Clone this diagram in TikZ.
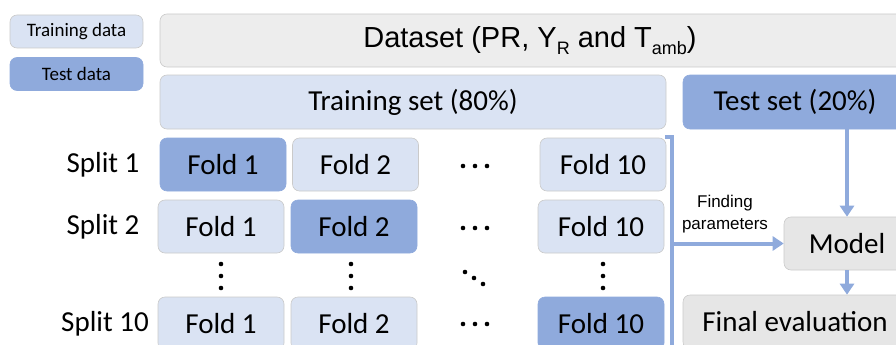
\documentclass[tikz,border=0pt]{standalone}
\usepackage{fontspec}
\setmainfont{Carlito}
\newfontfamily\arialf{Liberation Sans}
\usetikzlibrary{arrows.meta}
\definecolor{lblue}{HTML}{DAE3F3}
\definecolor{mblue}{HTML}{8FAADC}
\definecolor{dgray}{HTML}{EDEDED}
\definecolor{mgray}{HTML}{E6E6E6}
\definecolor{bord}{HTML}{CACACA}
\newcommand{\subtxt}[1]{\raisebox{-0.22em}{\fontsize{18}{18}\selectfont #1}}
\begin{document}
\begin{tikzpicture}[x=1pt,y=-1pt,
  box/.style={rounded corners=7pt, draw=bord, line width=0.6pt, inner sep=0pt, font=\fontsize{29}{31}\selectfont},
  trainfill/.style={fill=lblue, draw=bord},
  testfill/.style={fill=mblue, draw=mblue},
  trainbox/.style={box, trainfill},
  testbox/.style={box, testfill},
  graybox/.style={box, fill=mgray},
  fold/.style={minimum width=126pt, minimum height=53pt},
  legbox/.style={box, minimum width=133pt, minimum height=33pt, font=\fontsize{19}{21}\selectfont},
  splitlbl/.style={font=\fontsize{29}{31}\selectfont, inner sep=0pt},
  arr/.style={draw=mblue, line width=4pt, -{Triangle[width=14pt,length=11pt]}}
]
\useasboundingbox (0,0) rectangle (896,345);
\clip (0,0) rectangle (896,345);

% legend
\node[legbox, trainfill] (legtrain) at (76.5,31.5) {Training data};
\node[legbox, testfill] (legtest) at (76.5,74) {Test data};

% top boxes
\node[box, fill=dgray, minimum width=750pt, minimum height=53pt, font=\arialf\fontsize{29}{31}\selectfont] (dataset) at (535,40.5)
  {\hspace*{-10pt}Dataset (PR, Y\subtxt{R} and T\subtxt{amb})};
\node[trainbox, minimum width=506pt, minimum height=54pt] (trainset) at (413,102) {Training set (80\%)};
\node[testbox, minimum width=224pt, minimum height=54pt] (testset) at (795,102) {Test set (20\%)};

% split labels
\node[splitlbl] (s1) at (103,164.5) {Split 1};
\node[splitlbl] (s2) at (103,226.5) {Split 2};
\node[splitlbl] (s10) at (105,323.5) {Split 10};

% folds
\node[testbox, fold] (f11) at (223,164.5) {Fold 1};
\node[trainbox, fold] (f12) at (355.5,164.5) {Fold 2};
\node[trainbox, fold] (f110) at (603,164.5) {Fold 10};

\node[trainbox, fold] (f21) at (221,226.5) {Fold 1};
\node[testbox, fold] (f22) at (354,226.5) {Fold 2};
\node[trainbox, fold] (f210) at (601,226.5) {Fold 10};

\node[trainbox, fold] (f31) at (221,323.5) {Fold 1};
\node[trainbox, fold] (f32) at (354,323.5) {Fold 2};
\node[testbox, fold] (f310) at (601,323.5) {Fold 10};

% horizontal dots
\foreach \yy in {166,228,324}{
  \foreach \xx in {463,475,487}{
    \fill (\xx,\yy) circle (2.3pt);
  }
}
% vertical dots
\foreach \xx in {221,351,603}{
  \foreach \yy in {264,276,288}{
    \fill (\xx,\yy) circle (2.3pt);
  }
}
% diagonal dots
\fill (465,272) circle (2.3pt);
\fill (474,278) circle (2.3pt);
\fill (483,284) circle (2.3pt);

% model and final evaluation
\node[graybox, minimum width=126pt, minimum height=53pt] (model) at (847,243.5) {Model};
\node[graybox, minimum width=224pt, minimum height=54pt] (final) at (795,322) {Final evaluation};

% bracket
\coordinate (brstub) at (665,137);
\coordinate (brtop) at (672,137);
\coordinate (brbot) at (672,360);
\draw[draw=mblue, line width=4pt] (brstub) -- (brtop) -- (brbot);

% arrows
\draw[arr] (brtop |- model.west) -- (model.west);
\node[font=\arialf\fontsize{17}{22}\selectfont, align=center, inner sep=0pt] (fp) at (725,214) {Finding\\parameters};
\draw[arr] (model.north |- testset.south) -- (model.north);
\draw[arr] (model.south) -- (model.south |- final.north);
\end{tikzpicture}
\end{document}
